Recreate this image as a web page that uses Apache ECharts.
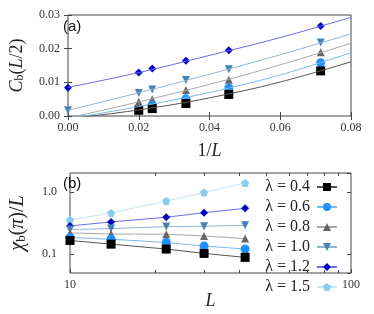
<!DOCTYPE html>
<html><head><meta charset="utf-8">
<script src="https://cdn.jsdelivr.net/npm/echarts@6/dist/echarts.min.js"></script>
<style>html,body{margin:0;padding:0;background:#fff}#c{width:374px;height:314px}</style>
</head><body><div id="c"></div>
<script>
// ---------- data ----------
const lambdas = ['0.4', '0.6', '0.8', '1.0', '1.2', '1.5'];
// panel (a): C_b(L/2) vs 1/L
const sizesA = [50, 42, 30, 22, 14];
const cb04 = [0.0017, 0.0022, 0.0037, 0.0064, 0.0134];
const cb06 = [null, 0.0032, 0.0051, 0.0083, 0.0158];
const cb08 = [0.0042, 0.0050, 0.0077, 0.0108, 0.0189];
const cb10 = [0.0068, 0.0079, 0.0107, 0.0139, 0.0218];
const cb12 = [0.0129, 0.0141, 0.0164, 0.0195, 0.0267];
const extrapX = [0];
const cb10Extrap = [0.0017];
const cb12Extrap = [0.0084];
// fit curves of panel (a)
const fitX = [0, 0.02, 0.04, 0.06, 0.08];
const fit04 = [-0.0008, 0.0018, 0.0054, 0.0101, 0.0161];
const fit06 = [-0.0008, 0.0028, 0.0070, 0.0122, 0.0188];
const fit08 = [-0.0006, 0.0042, 0.0094, 0.0152, 0.0216];
const fit10 = [0.0017, 0.0069, 0.0124, 0.0182, 0.0244];
const fit12 = [0.0085, 0.0129, 0.0180, 0.0233, 0.0293];
const ticksA_X = ['0.00', '0.02', '0.04', '0.06', '0.08'];
const ticksA_Y = ['0.00', '0.01', '0.02', '0.03'];
// panel (b): chi_b(pi)/L vs L
const sizesB = [10, 14, 22, 30, 42];
const chi04 = [0.166, 0.145, 0.121, 0.103, 0.089];
const chi06 = [0.185, 0.174, 0.154, 0.135, 0.121];
const chi08 = [0.219, 0.211, 0.209, 0.196, 0.178];
const chi10 = [0.248, 0.257, 0.277, 0.280, 0.291];
const chi12 = [0.284, 0.329, 0.391, 0.462, 0.543];
const chi15 = [0.354, 0.457, 0.711, 0.977, 1.377];
const minorTicksL = [20, 30, 40, 50, 60, 70, 80, 90];

// ---------- styles ----------
const pentagon = 'path://M0,-10L9.51,-3.09L5.88,8.09L-5.88,8.09L-9.51,-3.09Z';
const sty = {
  '0.4': {color: '#000000', line: '#555555', symbol: 'rect', size: 9, rot: 0},
  '0.6': {color: '#1e90ff', line: '#7ab8f5', symbol: 'circle', size: 9, rot: 0},
  '0.8': {color: '#666666', line: '#a8a8a8', symbol: 'triangle', size: 8, rot: 0},
  '1.0': {color: '#4682b4', line: '#92b4d4', symbol: 'triangle', size: 8, rot: 180},
  '1.2': {color: '#0000cd', line: '#6c6ce6', symbol: 'diamond', size: 8, rot: 0},
  '1.5': {color: '#87ceeb', line: '#c4e6f5', symbol: pentagon, size: 8, rot: 0}
};
const serif = 'Liberation Serif';
const frame = '#444444';
const pairs = (xs, ys) => xs.map((x, i) => [x, ys[i]]).filter(p => p[1] !== null);
const invA = sizesA.map(L => 1 / L);

const series = [];
// panel (a) fit lines
[['0.4', fit04], ['0.6', fit06], ['0.8', fit08], ['1.0', fit10], ['1.2', fit12]].reverse().forEach(([lam, f]) => {
  series.push({type: 'line', name: 'fit' + lam, xAxisIndex: 0, yAxisIndex: 0, data: pairs(fitX, f),
    smooth: 0.4, showSymbol: false, symbol: 'none', silent: true,
    lineStyle: {color: sty[lam].line, width: 1}});
});
// panel (a) markers
[['1.2', cb12], ['1.0', cb10], ['0.8', cb08], ['0.6', cb06], ['0.4', cb04]].forEach(([lam, v]) => {
  series.push({type: 'scatter', name: 'a' + lam, xAxisIndex: 0, yAxisIndex: 0, data: pairs(invA, v),
    symbol: sty[lam].symbol, symbolSize: sty[lam].size, symbolRotate: sty[lam].rot,
    itemStyle: {color: sty[lam].color, opacity: 1}});
});
[['1.2', cb12Extrap], ['1.0', cb10Extrap]].forEach(([lam, v]) => {
  series.push({type: 'scatter', name: 'e' + lam, xAxisIndex: 0, yAxisIndex: 0, data: pairs(extrapX, v),
    symbol: sty[lam].symbol, symbolSize: sty[lam].size, symbolRotate: sty[lam].rot, clip: false,
    itemStyle: {color: sty[lam].color, opacity: 1}});
});
// panel (b)
const chiB = {'0.4': chi04, '0.6': chi06, '0.8': chi08, '1.0': chi10, '1.2': chi12, '1.5': chi15};
lambdas.slice().reverse().forEach(lam => {
  series.push({type: 'line', name: 'λ = ' + lam, xAxisIndex: 2, yAxisIndex: 2, data: pairs(sizesB, chiB[lam]),
    symbol: sty[lam].symbol, symbolSize: sty[lam].size, symbolRotate: sty[lam].rot, showSymbol: true,
    lineStyle: {color: sty[lam].line, width: 1},
    itemStyle: {color: sty[lam].color, opacity: 1}});
});
series.push({type: 'custom', name: 'minor', xAxisIndex: 2, yAxisIndex: 2, silent: true, clip: false,
  data: minorTicksL.map(v => [v, 1]),
  renderItem: function (params, api) {
    const cs = params.coordSys;
    const x = Math.round(api.coord([api.value(0), 1])[0]) + 0.5;
    const yb = cs.y + cs.height, yt = cs.y;
    return {type: 'group', children: [
      {type: 'line', shape: {x1: x, y1: yb, x2: x, y2: yb - 3}, style: {stroke: frame, lineWidth: 1}},
      {type: 'line', shape: {x1: x, y1: yt, x2: x, y2: yt + 3}, style: {stroke: frame, lineWidth: 1}}
    ]};
  }});

const tickLab = {fontFamily: serif, fontSize: 12, color: '#333'};
const tick = {show: true, inside: true, length: 4, lineStyle: {color: frame}};
const mkRich = (fs) => ({
  i: {fontFamily: serif, fontStyle: 'italic', fontSize: fs, color: '#222'},
  n: {fontFamily: serif, fontSize: fs, color: '#222'},
  s: {fontFamily: serif, fontSize: Math.round(fs * 0.66), color: '#222', verticalAlign: 'bottom'}
});
const logLabel = v => (Math.abs(v - 1) < 1e-6 ? '1.0' : Math.abs(v - 0.1) < 1e-7 ? '0.1' : String(Math.round(v)));

const option = {
  animation: false,
  backgroundColor: '#fff',
  grid: [
    {left: 61, right: 23, top: 15, height: 101, show: true, borderColor: frame, borderWidth: 1},
    {left: 61, right: 23, top: 173, height: 100, show: true, borderColor: frame, borderWidth: 1}
  ],
  xAxis: [
    {type: 'value', gridIndex: 0, min: 0, max: 0.08, interval: 0.02, axisLine: {show: false}, splitLine: {show: false},
      axisTick: tick, axisLabel: Object.assign({margin: 6, formatter: v => ticksA_X[Math.round(v / 0.02)]}, tickLab),
      name: '{n|1/}{i|L}', nameLocation: 'middle', nameGap: 26, nameTextStyle: {rich: mkRich(18)}},
    {type: 'value', gridIndex: 0, position: 'top', min: 0, max: 0.08, interval: 0.02, axisLine: {show: false},
      splitLine: {show: false}, axisTick: tick, axisLabel: {show: false}},
    {type: 'log', gridIndex: 1, min: 10, max: 100, axisLine: {show: false}, splitLine: {show: false},
      axisTick: tick, axisLabel: Object.assign({margin: 6, formatter: logLabel}, tickLab),
      name: '{i|L}', nameLocation: 'middle', nameGap: 12, nameTextStyle: {rich: mkRich(18)}}
  ],
  yAxis: [
    {type: 'value', gridIndex: 0, min: 0, max: 0.03, interval: 0.01, axisLine: {show: false}, splitLine: {show: false},
      axisTick: tick, axisLabel: Object.assign({margin: 8, formatter: v => ticksA_Y[Math.round(v / 0.01)]}, tickLab),
      name: '{i|C}{s|b}{n|(}{i|L}{n|/2)}', nameLocation: 'middle', nameGap: 42, nameTextStyle: {rich: mkRich(18)}},
    {type: 'value', gridIndex: 0, position: 'right', min: 0, max: 0.03, interval: 0.01, axisLine: {show: false},
      splitLine: {show: false}, axisTick: tick, axisLabel: {show: false}},
    {type: 'log', gridIndex: 1, min: 0.05, max: 2, axisLine: {show: false}, splitLine: {show: false},
      axisTick: tick, axisLabel: Object.assign({margin: 13, formatter: logLabel, showMinLabel: false, showMaxLabel: false}, tickLab),
      name: '{i|χ}{s|b}{n|(}{i|π}{n|)/}{i|L}', nameLocation: 'middle', nameGap: 42, nameTextStyle: {rich: mkRich(20)}},
    {type: 'log', gridIndex: 1, position: 'right', min: 0.05, max: 2, axisLine: {show: false},
      splitLine: {show: false}, axisTick: tick, axisLabel: {show: false}}
  ],
  legend: {
    data: lambdas.map(l => 'λ = ' + l), orient: 'vertical', right: 36, top: 179, align: 'right',
    itemWidth: 20, itemHeight: 10, itemGap: 4, padding: 0, selectedMode: false,
    textStyle: {fontFamily: serif, fontSize: 16, color: '#222', padding: [0, 2, 0, 0]}
  },
  graphic: [
    {type: 'text', left: 63, top: 19, style: {text: '(a)', font: '15px "Liberation Sans"', fill: '#111'}},
    {type: 'text', left: 63, top: 176, style: {text: '(b)', font: '15px "Liberation Sans"', fill: '#111'}}
  ],
  series: series
};
const chart = echarts.init(document.getElementById('c'), null, {renderer: 'canvas'});
chart.setOption(option);
</script></body></html>
